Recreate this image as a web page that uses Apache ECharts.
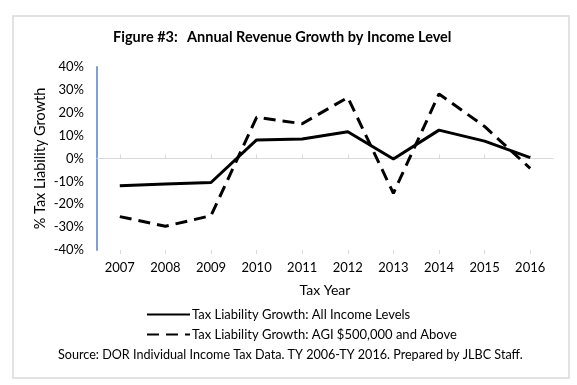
<!DOCTYPE html>
<html>
<head>
<meta charset="utf-8">
<script src="https://cdn.jsdelivr.net/npm/echarts@6/dist/echarts.min.js"></script>
<style>
html,body{margin:0;padding:0;background:#fff;}
#chart{width:577px;height:385px;}
</style>
</head>
<body>
<div id="chart"></div>
<script>
var years = ['2007','2008','2009','2010','2011','2012','2013','2014','2015','2016'];
var allIncome = [-11.9, -11.2, -10.5, 8.1, 8.5, 11.7, -0.2, 12.4, 7.6, 0.4];
var agi500k = [-25.4, -29.6, -25.0, 18.0, 15.2, 26.7, -15.2, 28.2, 14.0, -4.3];
var seriesNames = ['Tax Liability Growth: All Income Levels', 'Tax Liability Growth: AGI $500,000 and Above'];
var yTicks = { min: -40, max: 40, step: 10 };

var FONT = 'Lato';
var chart = echarts.init(document.getElementById('chart'), null, {renderer: 'canvas'});
var option = {
  animation: false,
  backgroundColor: '#fff',
  textStyle: { fontFamily: FONT, color: '#000' },
  graphic: [
    { type: 'rect', shape: { x: 13, y: 16, width: 556, height: 362 },
      style: { fill: 'none', stroke: '#d9d9d9', lineWidth: 1.5 }, z: -1 },
    { type: 'text', left: 113, top: 30,
      style: { text: 'Figure #3:', font: 'bold 14.5px ' + FONT, fill: '#000' } },
    { type: 'text', left: 187, top: 30,
      style: { text: 'Annual Revenue Growth by Income Level', font: 'bold 14.5px ' + FONT, fill: '#000' } },
    { type: 'text', left: 58, top: 348,
      style: { text: 'Source: DOR Individual Income Tax Data. TY 2006-TY 2016. Prepared by JLBC Staff.', font: '12.6px ' + FONT, fill: '#000' } }
  ],
  grid: { left: 97, right: 24, top: 67, bottom: 135, containLabel: false },
  legend: {
    orient: 'vertical', left: 141, top: 303, itemWidth: 43, itemHeight: 10, itemGap: 7,
    itemStyle: { opacity: 0 },
    textStyle: { fontSize: 13, fontFamily: FONT, color: '#000', padding: [0,0,0,-3] },
    data: seriesNames
  },
  xAxis: [
    { type: 'category', data: years, position: 'bottom',
      axisLine: { show: false, onZero: false }, axisTick: { show: false },
      axisLabel: { fontSize: 13, color: '#000', margin: 11, fontFamily: FONT },
      name: 'Tax Year', nameLocation: 'middle', nameGap: 33,
      nameTextStyle: { fontSize: 14, color: '#000', fontFamily: FONT } },
    { type: 'category', data: years, position: 'top',
      axisLine: { show: true, onZero: true, lineStyle: { color: '#d9d9d9', width: 1 } },
      axisTick: { show: true, alignWithLabel: true, length: 4, lineStyle: { color: '#d9d9d9' } },
      axisLabel: { show: false } },
    { type: 'category', data: years, position: 'bottom',
      axisLine: { show: false, onZero: true },
      axisTick: { show: true, alignWithLabel: true, length: 4, lineStyle: { color: '#d9d9d9' } },
      axisLabel: { show: false } }
  ],
  yAxis: {
    type: 'value', min: yTicks.min, max: yTicks.max, interval: yTicks.step,
    axisLine: { show: true, lineStyle: { color: '#7f9fd8', width: 2 } },
    axisTick: { show: false },
    splitLine: { show: false },
    axisLabel: { formatter: '{value}%', fontSize: 13, color: '#000', margin: 13, fontFamily: FONT },
    name: '% Tax Liability Growth', nameLocation: 'middle', nameGap: 49, nameMoveOverlap: false,
    nameTextStyle: { fontSize: 14.5, color: '#000', fontFamily: FONT }
  },
  series: [
    { name: seriesNames[0], type: 'line', data: allIncome, xAxisIndex: 0,
      symbol: 'none', color: '#000', lineStyle: { color: '#000', width: 3 } },
    { name: seriesNames[1], type: 'line', data: agi500k, xAxisIndex: 0,
      symbol: 'none', color: '#000', lineStyle: { color: '#000', width: 3, type: [12, 7] } }
  ]
};
chart.setOption(option);
</script>
</body>
</html>
